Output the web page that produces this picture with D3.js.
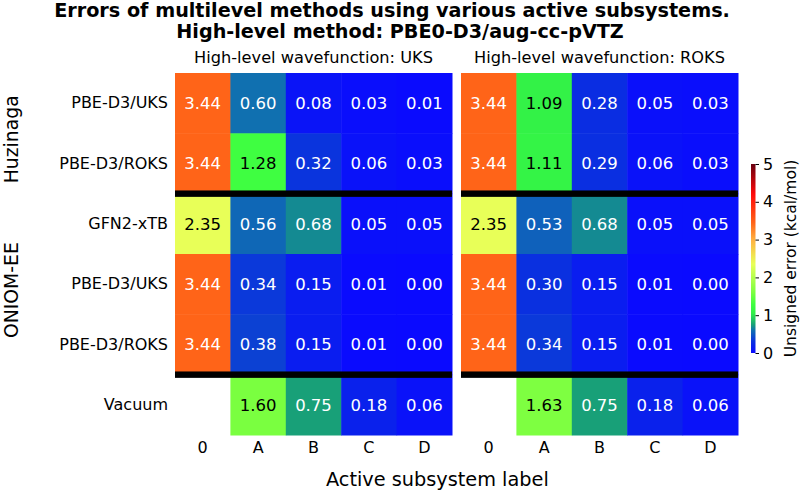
<!DOCTYPE html>
<html>
<head>
<meta charset="utf-8">
<script src="https://cdn.jsdelivr.net/npm/d3@7"></script>
<style>
  body { margin: 0; background: #fff; }
  text { font-family: "DejaVu Sans", sans-serif; }
</style>
</head>
<body>
<div id="chart"></div>
<script>
// data
const columns = ["0", "A", "B", "C", "D"];
const rowLabels = ["PBE-D3/UKS", "PBE-D3/ROKS", "GFN2-xTB", "PBE-D3/UKS", "PBE-D3/ROKS", "Vacuum"];
const groups = [
  { name: "Huzinaga", from: 0, to: 2 },
  { name: "ONIOM-EE", from: 2, to: 5 },
];
const panelTitles = ["High-level wavefunction: UKS", "High-level wavefunction: ROKS"];
const uksValues = [
  [3.44, 0.60, 0.08, 0.03, 0.01],
  [3.44, 1.28, 0.32, 0.06, 0.03],
  [2.35, 0.56, 0.68, 0.05, 0.05],
  [3.44, 0.34, 0.15, 0.01, 0.00],
  [3.44, 0.38, 0.15, 0.01, 0.00],
  [null, 1.60, 0.75, 0.18, 0.06],
];
const roksValues = [
  [3.44, 1.09, 0.28, 0.05, 0.03],
  [3.44, 1.11, 0.29, 0.06, 0.03],
  [2.35, 0.53, 0.68, 0.05, 0.05],
  [3.44, 0.30, 0.15, 0.01, 0.00],
  [3.44, 0.34, 0.15, 0.01, 0.00],
  [null, 1.63, 0.75, 0.18, 0.06],
];
const separators = [2, 5]; // black lines after these rows
const cbarTicks = [0, 1, 2, 3, 4, 5];

// colormap stops (value -> colour)
const cmapDomain = [0, 0.3, 0.6, 0.75, 1.05, 1.3, 1.6, 2.35, 3.0, 3.44, 4.2, 5];
const cmapRange = ["#0a0aff", "#0a30e0", "#1070b0", "#18a078", "#30f048", "#40ff40",
  "#7aff40", "#e8ff58", "#ffb040", "#ff6418", "#ff0a0a", "#6a0010"];
const color = d3.scaleLinear().domain(cmapDomain).range(cmapRange).clamp(true);

const W = 800, H = 490;
const svg = d3.select("#chart").append("svg").attr("width", W).attr("height", H);

const gridTop = 73, gridBottom = 435;
const panelX = [[175, 452], [461, 738]];

const y = d3.scaleBand().domain(d3.range(rowLabels.length)).range([gridTop, gridBottom]);

// title
svg.append("text").attr("x", 392).attr("y", 16.5).attr("text-anchor", "middle")
  .style("font-weight", "bold").style("font-size", "19.2px")
  .text("Errors of multilevel methods using various active subsystems.");
svg.append("text").attr("x", 400).attr("y", 37.5).attr("text-anchor", "middle")
  .style("font-weight", "bold").style("font-size", "19.2px")
  .text("High-level method: PBE0-D3/aug-cc-pVTZ");

[uksValues, roksValues].forEach((vals, p) => {
  const x = d3.scaleBand().domain(columns).range(panelX[p]);
  const g = svg.append("g");
  const cells = [];
  vals.forEach((row, i) => row.forEach((v, j) => cells.push({ i, j, v })));
  const valid = cells.filter(d => d.v !== null);

  g.selectAll("rect.cell").data(valid).enter().append("rect")
    .attr("class", "cell")
    .attr("x", d => x(columns[d.j]))
    .attr("y", d => y(d.i))
    .attr("width", x.bandwidth() + 0.5)
    .attr("height", y.bandwidth() + 0.5)
    .attr("fill", d => color(d.v));

  g.selectAll("text.val").data(valid).enter().append("text")
    .attr("class", "val")
    .attr("x", d => x(columns[d.j]) + x.bandwidth() / 2)
    .attr("y", d => y(d.i) + y.bandwidth() / 2)
    .attr("dy", "0.36em")
    .attr("text-anchor", "middle")
    .style("font-size", "16.5px")
    .attr("fill", d => {
      const c = d3.rgb(color(d.v));
      const lum = 0.299 * c.r + 0.587 * c.g + 0.114 * c.b;
      return lum > 150 ? "#000" : "#fff";
    })
    .text(d => d.v.toFixed(2));

  // separators
  g.selectAll("rect.sep").data(separators).enter().append("rect")
    .attr("class", "sep")
    .attr("x", panelX[p][0])
    .attr("width", panelX[p][1] - panelX[p][0])
    .attr("y", d => y(d) - 3.2)
    .attr("height", 6.4)
    .attr("fill", "#000");

  // panel title
  svg.append("text")
    .attr("x", (panelX[p][0] + panelX[p][1]) / 2).attr("y", 63)
    .attr("text-anchor", "middle").style("font-size", "16.2px")
    .text(panelTitles[p]);

  // x axis
  const xa = svg.append("g").attr("transform", `translate(0,${gridBottom})`)
    .call(d3.axisBottom(x).tickSize(0).tickPadding(6.6));
  xa.select(".domain").remove();
  xa.selectAll("text").style("font-size", "16px").style("font-family", "DejaVu Sans").attr("fill", "#000");
});

// y axis labels
const ya = svg.append("g").attr("transform", `translate(${panelX[0][0]},0)`)
  .call(d3.axisLeft(y).tickSize(0).tickPadding(7).tickFormat(i => rowLabels[i]));
ya.select(".domain").remove();
ya.selectAll("text").style("font-size", "16px").style("font-family", "DejaVu Sans").attr("fill", "#000");

// group labels
groups.forEach(gr => {
  const cy = (y(gr.from) + y(gr.to - 1) + y.bandwidth()) / 2 + 6;
  svg.append("text")
    .attr("transform", `translate(18,${cy}) rotate(-90)`)
    .attr("text-anchor", "middle").style("font-size", "18.8px")
    .text(gr.name);
});

// x axis label
svg.append("text").attr("x", 326).attr("y", 486).attr("text-anchor", "start")
  .style("font-size", "19.3px").text("Active subsystem label");

// colorbar
const cbX = 751, cbW = 4.5, cbTop = 164, cbBottom = 353;
const cScale = d3.scaleLinear().domain([0, 5]).range([cbBottom, cbTop]);
const defs = svg.append("defs");
const grad = defs.append("linearGradient").attr("id", "cbgrad")
  .attr("x1", 0).attr("y1", 1).attr("x2", 0).attr("y2", 0);
grad.selectAll("stop").data(d3.range(0, 5.001, 0.05)).enter().append("stop")
  .attr("offset", d => d / 5).attr("stop-color", d => color(d));
svg.append("rect").attr("x", cbX).attr("y", cbTop).attr("width", cbW)
  .attr("height", cbBottom - cbTop).attr("fill", "url(#cbgrad)");
const ca = svg.append("g").attr("transform", `translate(${cbX + cbW},0)`)
  .call(d3.axisRight(cScale).tickValues(cbarTicks).tickSize(3.5).tickPadding(4).tickFormat(d3.format("d")));
ca.select(".domain").remove();
ca.selectAll("line").attr("stroke", "#000");
ca.selectAll("text").style("font-size", "16px").style("font-family", "DejaVu Sans").attr("fill", "#000");
svg.append("text")
  .attr("transform", `translate(796,${(cbTop + cbBottom) / 2}) rotate(-90)`)
  .attr("text-anchor", "middle").style("font-size", "15.5px")
  .text("Unsigned error (kcal/mol)");
</script>
</body>
</html>
